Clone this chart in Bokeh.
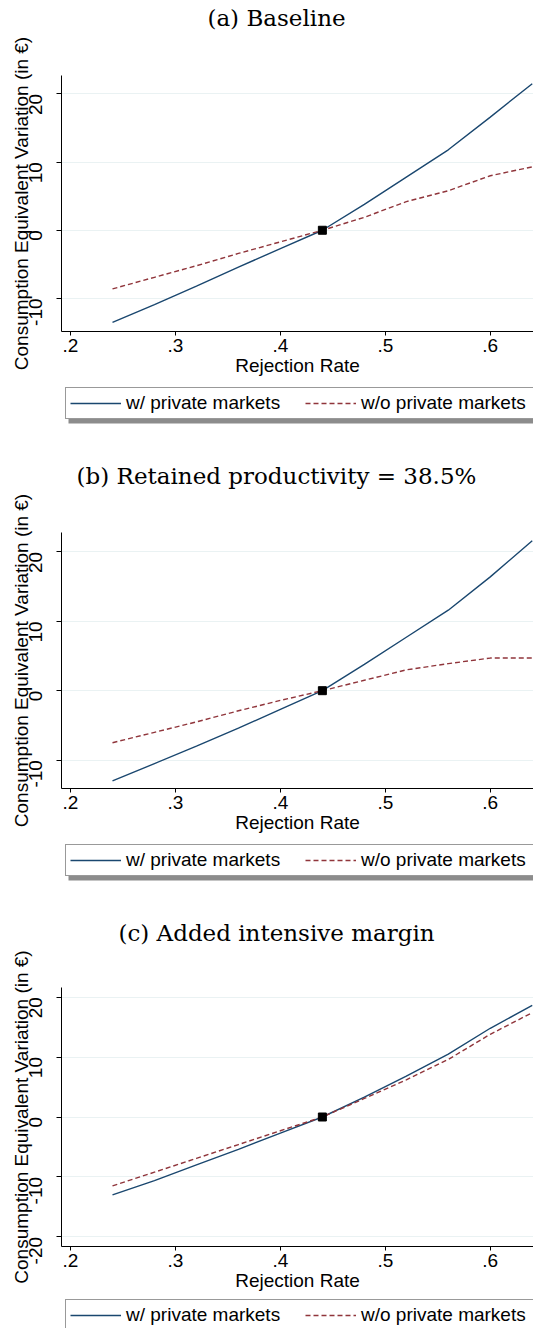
import math

from bokeh.plotting import figure
from bokeh.models import Range1d, FixedTicker, Legend, LegendItem, Label, BoxAnnotation
from bokeh.layouts import column
from bokeh.embed import file_html
from bokeh.resources import INLINE

# data
rejection_rate = [0.24, 0.28, 0.32, 0.36, 0.40, 0.44, 0.48, 0.52, 0.56, 0.60, 0.64]

baseline_w = [-13.5, -10.9, -8.2, -5.4, -2.7, 0.0, 3.8, 7.8, 11.8, 16.6, 21.5]
baseline_wo = [-8.6, -6.9, -5.2, -3.4, -1.7, 0.0, 1.9, 4.2, 5.8, 8.0, 9.3]

retained_w = [-13.0, -10.5, -8.0, -5.4, -2.7, 0.0, 3.8, 7.7, 11.6, 16.4, 21.6]
retained_wo = [-7.5, -6.0, -4.5, -2.9, -1.4, 0.0, 1.5, 3.0, 3.9, 4.7, 4.7]

intensive_w = [-13.0, -10.6, -8.0, -5.4, -2.7, 0.0, 3.3, 6.8, 10.5, 14.8, 18.6]
intensive_wo = [-11.5, -9.2, -6.9, -4.6, -2.3, 0.0, 3.1, 6.2, 9.6, 13.8, 17.4]

status_quo_x = [0.44]
status_quo_y = [0.0]

titles = ["(a) Baseline", "(b) Retained productivity = 38.5%", "(c) Added intensive margin"]
x_ticks = [0.2, 0.3, 0.4, 0.5, 0.6]
x_tick_labels = [".2", ".3", ".4", ".5", ".6"]
y_ticks_ab = [-10, 0, 10, 20]
y_ticks_c = [-20, -10, 0, 10, 20]
legend_labels = ["w/ private markets", "w/o private markets"]
x_label = "Rejection Rate"
y_label = "Consumption Equivalent Variation (in \u20ac)"

SANS = "Liberation Sans"
SERIF = "DejaVu Serif"
BLUE = "#1a476f"
RED = "#90353b"
W = 533
FRAME_LEFT = 61


def style_line(p, xs, ys, color, dash="solid", **kw):
    return p.line(xs, ys, line_color=color, line_width=1.4, line_dash=dash, **kw)


def make_plot(y_w, y_wo, y_range, y_ticks, height, top, bottom):
    p = figure(width=W, height=height,
               x_range=Range1d(0.1914, 0.6412), y_range=Range1d(*y_range),
               output_backend="svg", toolbar_location=None,
               min_border_left=FRAME_LEFT, min_border_right=0,
               min_border_top=top, min_border_bottom=bottom)
    p.background_fill_color = "white"
    p.border_fill_color = "white"
    p.outline_line_color = None

    p.xgrid.visible = False
    p.ygrid.ticker = FixedTicker(ticks=y_ticks)
    p.ygrid.grid_line_color = "#eaf2f3"
    p.ygrid.grid_line_width = 1

    xa = p.xaxis[0]
    xa.ticker = FixedTicker(ticks=x_ticks)
    xa.major_label_overrides = dict(zip(x_ticks, x_tick_labels))
    xa.minor_tick_line_color = None
    xa.major_tick_in = 0
    xa.major_tick_out = 4
    xa.major_label_standoff = 3
    xa.axis_label = x_label
    xa.axis_label_standoff = 0

    ya = p.yaxis[0]
    ya.ticker = FixedTicker(ticks=y_ticks)
    # plain hyphen for negatives, as in the original
    ya.major_label_overrides = {t: str(t) for t in y_ticks}
    ya.minor_tick_line_color = None
    ya.major_tick_in = 0
    ya.major_tick_out = 5
    ya.major_label_orientation = math.pi / 2
    ya.major_label_standoff = 21
    ya.axis_label = y_label
    ya.axis_label_standoff = -12

    for ax in (xa, ya):
        ax.axis_line_color = "black"
        ax.major_tick_line_color = "black"
        ax.major_label_text_font = SANS
        ax.major_label_text_font_size = "19px"
        ax.major_label_text_color = "black"
        ax.axis_label_text_font = SANS
        ax.axis_label_text_font_size = "19px"
        ax.axis_label_text_font_style = "normal"
        ax.axis_label_text_color = "black"

    style_line(p, rejection_rate, y_w, BLUE)
    style_line(p, rejection_rate, y_wo, RED, "5 3")
    p.scatter(status_quo_x, status_quo_y, marker="square", size=8,
              fill_color="black", line_color="black")
    return p


def make_strip(height, title=None, title_y=None, legend_y=None, y_w=None, y_wo=None):
    # strip between plots: holds a legend and/or the next panel title.
    # the column aligns its frame with the plots, so x units = page pixels
    f = figure(width=W, height=height, output_backend="svg",
               toolbar_location=None, x_range=Range1d(FRAME_LEFT, W), y_range=Range1d(0, height),
               min_border_left=0, min_border_right=0, min_border_top=0, min_border_bottom=0,
               x_axis_type=None, y_axis_type=None)
    f.outline_line_color = None
    f.background_fill_color = "white"
    f.border_fill_color = "white"
    f.xgrid.visible = False
    f.ygrid.visible = False

    if legend_y is not None:
        # legend renderers live on a range that is never shown
        f.extra_y_ranges = {"hidden": Range1d(1000, 1001)}
        r_w = style_line(f, rejection_rate, y_w, BLUE, y_range_name="hidden")
        r_wo = style_line(f, rejection_rate, y_wo, RED, "5 3", y_range_name="hidden")
        f.add_layout(BoxAnnotation(left=68, right=W + 20, bottom=legend_y - 4, top=legend_y + 24,
                                   fill_color="#8c8c8c", fill_alpha=1, line_color=None))
        legend = Legend(items=[LegendItem(label=legend_labels[0], renderers=[r_w]),
                               LegendItem(label=legend_labels[1], renderers=[r_wo])],
                        orientation="horizontal", location=(65 - FRAME_LEFT, legend_y), margin=0,
                        padding=4, spacing=9, glyph_width=51, glyph_height=20,
                        label_height=20, label_width=170, label_standoff=5,
                        label_text_font=SANS, label_text_font_size="19px",
                        label_text_color="black",
                        border_line_color="#333333", border_line_width=1,
                        background_fill_color="white", background_fill_alpha=1)
        f.add_layout(legend, "center")

    if title is not None:
        f.add_layout(Label(x=276, y=title_y, text=title, text_align="center",
                           text_baseline="middle", text_font=SERIF,
                           text_font_size="23px", text_color="black"))
    return f


ta = make_strip(32, title=titles[0], title_y=15)
pa = make_plot(baseline_w, baseline_wo, (-14.85, 22.7), y_ticks_ab, 351, 43, 52)
sab = make_strip(106, title=titles[1], title_y=14, legend_y=70, y_w=baseline_w, y_wo=baseline_wo)
pb = make_plot(retained_w, retained_wo, (-14.1, 22.8), y_ticks_ab, 350, 43, 51)
sbc = make_strip(107, title=titles[2], title_y=14, legend_y=70, y_w=retained_w, y_wo=retained_wo)
pc = make_plot(intensive_w, intensive_wo, (-21.6, 21.6), y_ticks_c, 351, 41, 51)
sc = make_strip(31, legend_y=-3, y_w=intensive_w, y_wo=intensive_wo)

page = column(ta, pa, sab, pb, sbc, pc, sc)
open("out.html", "w").write(file_html(page, INLINE))
